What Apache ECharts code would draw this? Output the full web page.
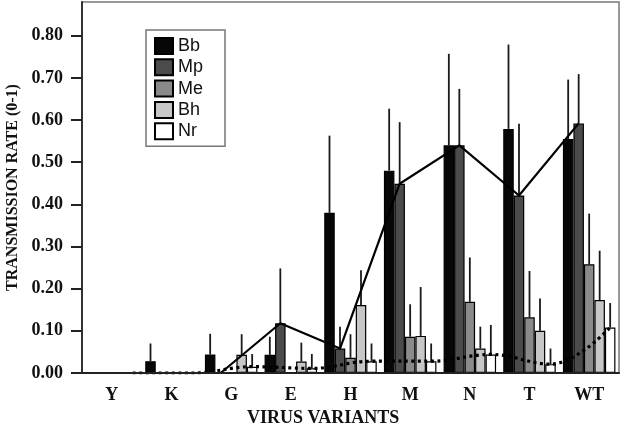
<!DOCTYPE html>
<html>
<head>
<meta charset="utf-8">
<script src="https://cdn.jsdelivr.net/npm/echarts@6/dist/echarts.min.js"></script>
<style>
  html, body { margin: 0; padding: 0; background: #fff; }
  #chart { width: 624px; height: 428px; }
</style>
</head>
<body>
<div id="chart"></div>
<script>
// virus variants on the x axis
var variants = ['Y', 'K', 'G', 'E', 'H', 'M', 'N', 'T', 'WT'];
var seriesNames = ['Bb', 'Mp', 'Me', 'Bh', 'Nr'];

// mean transmission rate per host
var bb = [0, 0.028, 0.044, 0.043, 0.38, 0.48, 0.54, 0.579, 0.555];
var mp = [0, 0, 0, 0.118, 0.058, 0.449, 0.54, 0.421, 0.592];
var me = [0, 0, 0, 0, 0.036, 0.086, 0.169, 0.132, 0.258];
var bh = [0, 0, 0.043, 0.027, 0.161, 0.088, 0.058, 0.1, 0.173];
var nr = [0, 0, 0.015, 0.011, 0.028, 0.028, 0.044, 0.021, 0.108];

// upper error (added on top of the bar)
var bbErr = [0, 0.042, 0.049, 0.043, 0.183, 0.147, 0.217, 0.2, 0.141];
var mpErr = [0, 0, 0, 0.13, 0.052, 0.146, 0.134, 0.17, 0.117];
var meErr = [0, 0, 0, 0, 0.056, 0.077, 0.105, 0.11, 0.12];
var bhErr = [0, 0, 0.049, 0.045, 0.083, 0.116, 0.052, 0.077, 0.117];
var nrErr = [0, 0, 0.03, 0.034, 0.042, 0.042, 0.07, 0.037, 0.058];

var yTicks = [0, 0.1, 0.2, 0.3, 0.4, 0.5, 0.6, 0.7, 0.8];

var means = [bb, mp, me, bh, nr];
var errs = [bbErr, mpErr, meErr, bhErr, nrErr];
var colors = ['#070707', '#4b4b4b', '#8a8a8a', '#c7c7c7', '#ffffff'];

var catGap = 0.12; // barCategoryGap as fraction
var nBars = seriesNames.length;

// offset of bar s from category centre, in category units
function barOffset(s) {
  var w = (1 - catGap) / nBars;
  return -(1 - catGap) / 2 + w * (s + 0.5);
}

var chart = echarts.init(document.getElementById('chart'));

var series = [];
for (var s = 0; s < nBars; s++) {
  series.push({
    name: seriesNames[s],
    type: 'bar',
    data: means[s],
    barGap: '0%',
    barCategoryGap: (catGap * 100) + '%',
    itemStyle: { color: colors[s], borderColor: '#000', borderWidth: 1.2 },
    z: 2
  });
}

// error bars, one line up from each bar top
var errData = [];
for (var s2 = 0; s2 < nBars; s2++) {
  for (var i = 0; i < variants.length; i++) {
    if (errs[s2][i] > 0) {
      errData.push([i, means[s2][i], means[s2][i] + errs[s2][i], s2]);
    }
  }
}
series.push({
  type: 'custom',
  silent: true,
  z: 1,
  data: errData,
  encode: { x: 0, y: [1, 2] },
  renderItem: function (params, api) {
    var cat = api.value(0);
    var band = api.size([1, 0])[0];
    var x = api.coord([cat, 0])[0] + barOffset(api.value(3)) * band;
    var y1 = api.coord([cat, api.value(1)])[1];
    var y2 = api.coord([cat, api.value(2)])[1];
    return {
      type: 'line',
      shape: { x1: x, y1: y1, x2: x, y2: y2 },
      style: { stroke: '#1a1a1a', lineWidth: 1.8 }
    };
  }
});

// trend lines through Mp (solid) and Nr (dotted) bar centres
var mpLine = mp.map(function (v, i) { return [i + barOffset(1), v]; });
var nrLine = nr.map(function (v, i) { return [i + barOffset(4), v]; });
series.push({
  type: 'line',
  xAxisIndex: 1,
  data: mpLine,
  symbol: 'none',
  lineStyle: { color: '#000', width: 2.2 },
  z: 5
});
series.push({
  type: 'line',
  xAxisIndex: 1,
  data: nrLine,
  symbol: 'none',
  smooth: 0.4,
  lineStyle: { color: '#000', width: 3.2, type: [3, 3.5] },
  z: 5
});

var serif = 'Liberation Serif';

var option = {
  animation: false,
  grid: {
    left: 82, right: 5, top: 2, bottom: 55,
    outerBoundsMode: 'none',
    containLabel: false,
    show: true, borderColor: '#777', borderWidth: 1.5
  },
  legend: {
    data: seriesNames,
    orient: 'vertical',
    left: 146, top: 30,
    padding: [7, 22, 6, 8],
    itemWidth: 18, itemHeight: 16, itemGap: 3.3,
    icon: 'rect',
    borderColor: '#777', borderWidth: 1.5,
    backgroundColor: '#fff',
    textStyle: { fontFamily: 'Liberation Sans', fontSize: 18, color: '#111' }
  },
  title: {
    text: 'VIRUS VARIANTS',
    left: 247, top: 409,
    padding: 0,
    textStyle: { fontFamily: serif, fontWeight: 'bold', fontSize: 18, color: '#111' }
  },
  xAxis: [{
    type: 'category',
    data: variants,
    axisLine: { lineStyle: { color: '#222', width: 2 } },
    axisTick: { alignWithLabel: true, length: 8, lineStyle: { color: '#222', width: 2 } },
    axisLabel: { margin: 13, fontFamily: serif, fontWeight: 'bold', fontSize: 18, color: '#111' },
    z: 6
  }, {
    type: 'value',
    show: false,
    min: -0.5,
    max: variants.length - 0.5
  }],
  yAxis: {
    type: 'value',
    min: 0, max: 0.88, interval: 0.1,
    name: 'TRANSMISSION RATE (0-1)',
    nameLocation: 'middle',
    nameGap: 55,
    nameTextStyle: { fontFamily: serif, fontWeight: 'bold', fontSize: 16, color: '#111' },
    axisLine: { show: true, onZero: false, lineStyle: { color: '#333', width: 2 } },
    axisTick: { show: true, length: 11, customValues: yTicks, lineStyle: { color: '#222', width: 2 } },
    axisLabel: {
      margin: 19,
      customValues: yTicks,
      formatter: function (v) { return v.toFixed(2); },
      fontFamily: serif, fontWeight: 'bold', fontSize: 18, color: '#111'
    },
    splitLine: { show: false }
  },
  series: series
};

chart.setOption(option);
</script>
</body>
</html>
